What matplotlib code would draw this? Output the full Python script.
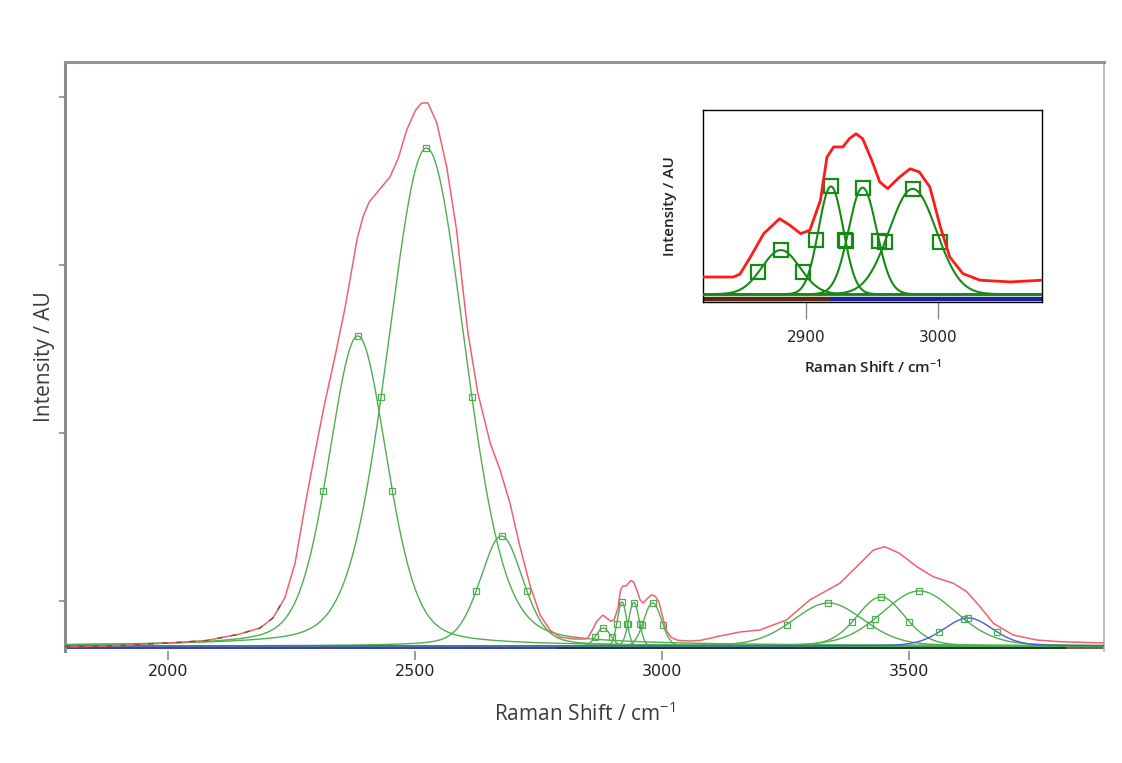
import numpy as np
import matplotlib
matplotlib.use("Agg")
import matplotlib.pyplot as plt

plt.rcParams['mathtext.fontset'] = 'custom'
plt.rcParams['mathtext.rm'] = 'Open Sans'
plt.rcParams['mathtext.default'] = 'regular'

# ---------------- data ----------------
# fitted component peaks: centre (cm-1), height (AU), FWHM (cm-1), Lorentz fraction
peak_centers = [2384, 2523, 2675, 2881, 2919, 2943, 2981, 3337, 3443, 3521, 3620]
peak_heights = [310, 498, 110, 18, 44, 43.5, 43, 43, 49, 55, 28]
peak_fwhm = [140, 184, 103, 34, 22, 25, 42, 169, 115, 179, 118]
peak_eta = [0.3, 0.2, 0.3, 0.0, 0.0, 0.0, 0.0, 0.2, 0.2, 0.2, 0.2]
peak_kind = ['g', 'g', 'g', 'g', 'g', 'g', 'g', 'g', 'g', 'g', 'b']
component_offset = 2.0
inset_peaks = [3, 4, 5, 6]

# measured spectrum (red)
spec_x = [1791, 1902, 2000, 2078, 2145, 2186, 2212, 2236, 2257, 2277, 2297, 2317,
          2338, 2358, 2368, 2383, 2395, 2407, 2422, 2449, 2466, 2483, 2500, 2513, 2526,
          2544, 2564, 2584,
          2594, 2607, 2627, 2652, 2672, 2692, 2712, 2733, 2753, 2773, 2793, 2822,
          2845, 2850, 2858, 2868, 2880, 2888, 2896, 2903, 2911, 2916, 2921, 2928,
          2933, 2938, 2943, 2950, 2956, 2962, 2971, 2979, 2986, 2994, 3002, 3009,
          3019, 3032, 3055, 3079, 3117, 3158, 3198, 3252, 3299, 3360, 3401, 3428,
          3451, 3481, 3516, 3549, 3590, 3617, 3644, 3671, 3711, 3759, 3806, 3895]
spec_y = [1, 2.5, 5, 7.5, 14, 20, 30, 50, 85, 142, 195, 245,
          292, 340, 368, 410, 432, 446, 455, 471, 490, 518, 537, 545, 545,
          525, 481, 418,
          371, 315, 255, 205, 178, 145, 102, 62, 33, 18, 11, 9,
          9, 10.2, 17.2, 26.7, 32.8, 30.1, 26.7, 28.1, 40.3, 58.0, 62.1, 62.1,
          65.5, 67.5, 65.5, 56.6, 47.8, 45.1, 49.8, 53.2, 51.9, 45.7, 29.4, 17.2,
          10.4, 7.7, 7.0, 7.7, 12, 16, 18, 28, 48, 64.7, 84.7, 98,
          101.3, 94.7, 81.3, 71.3, 64.7, 56.3, 41.3, 24.7, 13, 8, 6.3, 5]

main_xticks = [2000, 2500, 3000, 3500]
main_yticks = [47, 215, 383, 551]
inset_xticks = [2900, 3000]

# ---------------- helpers ----------------
def pseudo_voigt(x, c, h, w, eta):
    u = (x - c) / (w / 2.0)
    return h * (eta / (1 + u ** 2) + (1 - eta) * np.exp(-np.log(2) * u ** 2))

GREEN_MAIN = '#4fae4f'
GREEN_INSET = '#158a15'
BLUE = '#4a5ad8'
RED_MAIN = '#f2606e'
RED_INSET = '#ff1a1a'
GRAY = '#8a8a8a'
TXT = '#3a3a3a'

fig = plt.figure(figsize=(11.22, 7.63), dpi=100)

# ---------------- main axes ----------------
ax = fig.add_axes([65 / 1122, 112 / 763, 1039 / 1122, 589 / 763])
xlo, xhi = 1791, 3895
ax.set_xlim(xlo, xhi)
ax.set_ylim(-3, 586)
xs = np.linspace(xlo, xhi, 3000)

# baseline lines
ax.plot([xlo, xhi], [0, 0], color='#3c3ca8', lw=1.4, zorder=2)
ax.plot([2790, xhi], [0, 0], color='#1e3a1e', lw=1.2, zorder=2)
ax.plot([3820, xhi], [0.5, 0.5], color='#8a6a3a', lw=1.2, zorder=2)

for i, (c, h, w, e, k) in enumerate(zip(peak_centers, peak_heights, peak_fwhm, peak_eta, peak_kind)):
    col = BLUE if k == 'b' else GREEN_MAIN
    ax.plot(xs, component_offset + pseudo_voigt(xs, c, h, w, e), color=col, lw=1.0, zorder=3)
    mx = np.array([c - w / 2, c, c + w / 2])
    ax.plot(mx, component_offset + pseudo_voigt(mx, c, h, w, e), ls='none', marker='s',
            ms=4.2, mfc='none', mec=GREEN_MAIN, mew=0.9, zorder=4)

ax.plot(spec_x, spec_y, color=RED_MAIN, lw=1.1, zorder=5)
sx = [x for x in spec_x if x <= 2240]
sy = spec_y[:len(sx)]
ax.plot(sx, sy, color='#6a5a2a', lw=1.0, ls=(0, (4, 6)), zorder=6)

ax.spines['bottom'].set_visible(False)
ax.spines['left'].set_color(GRAY)
ax.spines['left'].set_linewidth(2.2)
ax.spines['top'].set_color('#959595')
ax.spines['top'].set_linewidth(2.2)
ax.spines['right'].set_color('#b0b0b0')
ax.spines['right'].set_linewidth(1.2)

ax.set_xticks(main_xticks)
ax.set_xticklabels([str(t) for t in main_xticks], fontsize=11.5, color='#222222',
                   family='DejaVu Sans')
ax.set_yticks(main_yticks)
ax.set_yticklabels([])
ax.tick_params(axis='x', direction='out', length=6.5, width=1.2, color=GRAY, pad=3)
ax.tick_params(axis='y', direction='out', length=4, width=1.2, color=GRAY)
ax.set_xlabel(r'Raman Shift / cm$^{-1}$', fontsize=15, color=TXT, family='Open Sans',
              labelpad=17)
ax.set_ylabel('Intensity / AU', fontsize=15, color=TXT, family='Open Sans', labelpad=0)

# ---------------- inset ----------------
ins = fig.add_axes([703 / 1122, 461 / 763, 339 / 1122, 192 / 763])
ilo, ihi = 2822, 3079
ins.set_xlim(ilo, ihi)
ins.set_ylim(-1.2, 77.2)
xi = np.linspace(ilo, ihi, 1500)

ins.plot([ilo, 2918], [0, 0], color='#5a2a10', lw=3.2, zorder=2, solid_capstyle='butt')
ins.plot([2918, ihi], [0, 0], color='#20209a', lw=3.2, zorder=2, solid_capstyle='butt')
ins.plot([ilo, ihi], [component_offset, component_offset], color=GREEN_INSET, lw=2.0, zorder=3)

for i in inset_peaks:
    c, h, w, e = peak_centers[i], peak_heights[i], peak_fwhm[i], peak_eta[i]
    ins.plot(xi, component_offset + pseudo_voigt(xi, c, h, w, e), color=GREEN_INSET, lw=1.5, zorder=3)
    mx = np.array([c - w / 2, c, c + w / 2])
    ins.plot(mx, component_offset + pseudo_voigt(mx, c, h, w, e), ls='none', marker='s',
             ms=10, mfc='none', mec=GREEN_INSET, mew=1.6, zorder=4)

ins.plot(spec_x, spec_y, color=RED_INSET, lw=2.0, zorder=5)

for s in ins.spines.values():
    s.set_color('black')
    s.set_linewidth(1.0)
ins.set_xticks(inset_xticks)
ins.set_xticklabels([str(t) for t in inset_xticks], fontsize=11, color='#222222',
                    family='DejaVu Sans')
ins.set_yticks([])
ins.tick_params(axis='x', direction='out', length=12, width=1.0, color=GRAY, pad=8)
ins.set_xlabel(r'Raman Shift / cm$^{-1}$', fontsize=11, color='#222222',
               family='Open Sans', fontweight='semibold', labelpad=9)
ins.set_ylabel('Intensity / AU', fontsize=11, color='#222222', family='Open Sans',
               fontweight='semibold', labelpad=19)

fig.savefig('out.png', dpi=100, facecolor='white')
